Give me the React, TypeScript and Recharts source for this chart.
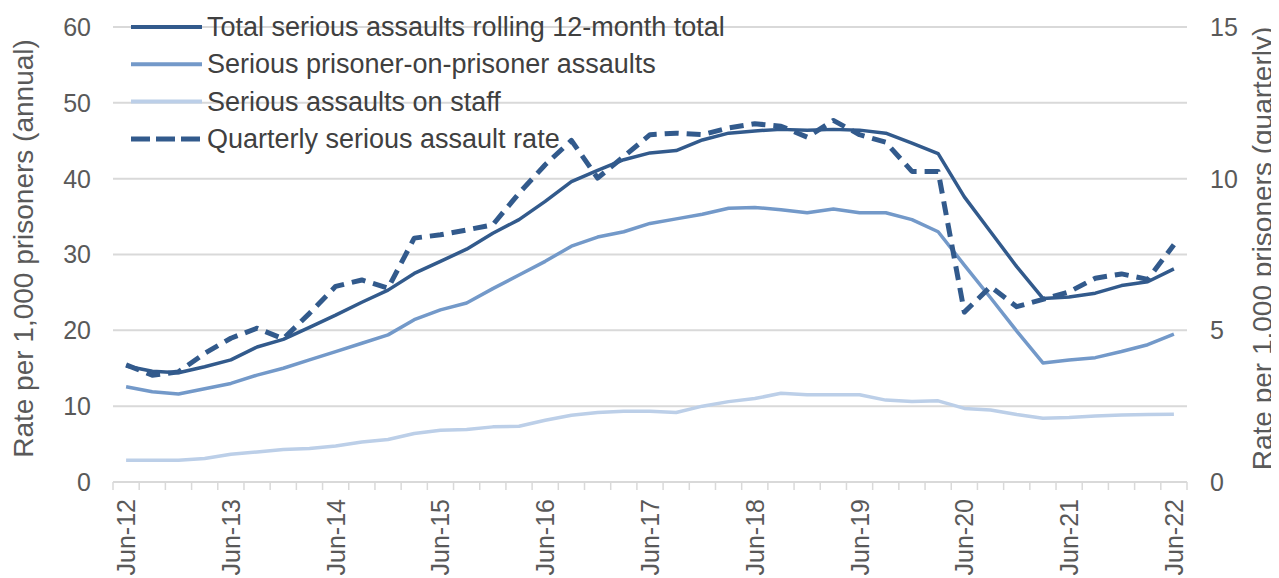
import React from 'react';
import { LineChart, Line, XAxis, YAxis, CartesianGrid, Legend } from 'recharts';

const quarters = [
  'Jun-12','Sep-12','Dec-12','Mar-13','Jun-13','Sep-13','Dec-13','Mar-14','Jun-14','Sep-14','Dec-14','Mar-15',
  'Jun-15','Sep-15','Dec-15','Mar-16','Jun-16','Sep-16','Dec-16','Mar-17','Jun-17','Sep-17','Dec-17','Mar-18',
  'Jun-18','Sep-18','Dec-18','Mar-19','Jun-19','Sep-19','Dec-19','Mar-20','Jun-20','Sep-20','Dec-20','Mar-21',
  'Jun-21','Sep-21','Dec-21','Mar-22','Jun-22',
];

const totalRolling = [
  15.3, 14.6, 14.4, 15.2, 16.1, 17.8, 18.8, 20.4, 22.0, 23.7, 25.3, 27.5, 29.1, 30.7, 32.8, 34.6, 37.0, 39.6, 41.1, 42.5,
  43.4, 43.7, 45.1, 46.0, 46.3, 46.5, 46.4, 46.5, 46.4, 46.0, 44.7, 43.3, 37.6, 33.0, 28.4, 24.2, 24.4, 24.9, 25.9, 26.4, 28.1,
];

const prisonerOnPrisoner = [
  12.55, 11.9, 11.6, 12.3, 13.0, 14.1, 15.0, 16.1, 17.2, 18.3, 19.4, 21.4, 22.7, 23.6, 25.5, 27.3, 29.1, 31.1, 32.3, 33.0,
  34.1, 34.7, 35.3, 36.1, 36.2, 35.9, 35.5, 36.0, 35.5, 35.5, 34.6, 33.0, 28.6, 24.3, 19.9, 15.7, 16.1, 16.4, 17.2, 18.1, 19.5,
];

const onStaff = [
  2.87, 2.87, 2.87, 3.09, 3.66, 3.96, 4.28, 4.41, 4.76, 5.28, 5.6, 6.39, 6.83, 6.92, 7.27, 7.36, 8.15, 8.81, 9.17, 9.34,
  9.34, 9.17, 10.0, 10.6, 11.0, 11.7, 11.5, 11.5, 11.5, 10.8, 10.6, 10.7, 9.7, 9.5, 8.9, 8.4, 8.5, 8.7, 8.85, 8.9, 8.95,
];

const quarterlyRate = [
  3.86, 3.52, 3.63, 4.24, 4.74, 5.07, 4.72, 5.56, 6.45, 6.66, 6.39, 8.04, 8.15, 8.31, 8.48, 9.52, 10.46, 11.26, 10.02, 10.73,
  11.45, 11.5, 11.45, 11.67, 11.81, 11.73, 11.37, 11.92, 11.45, 11.2, 10.24, 10.24, 5.6, 6.44, 5.78, 6.02, 6.27, 6.72, 6.86, 6.68, 7.82,
];

const leftTicks = [0, 10, 20, 30, 40, 50, 60];
const rightTicks = [0, 5, 10, 15];

const seriesNames = [
  'Total serious assaults rolling 12-month total',
  'Serious prisoner-on-prisoner assaults',
  'Serious assaults on staff',
  'Quarterly serious assault rate',
];

const data = quarters.map((q, i) => ({
  q,
  total: totalRolling[i],
  pop: prisonerOnPrisoner[i],
  staff: onStaff[i],
  rate: quarterlyRate[i],
}));

const FONT = '"Liberation Sans", Arial, sans-serif';
const W = 1271;
const H = 570;
const LEFT_W = 105;
const RIGHT_W = 92;
const PLOT_W = W - LEFT_W - RIGHT_W;
const STEP = PLOT_W / quarters.length;

const DARK = '#325a8c';
const MID = '#7399c9';
const LIGHT = '#bccfe8';
const GRID = '#d9d9d9';
const TEXT = '#595959';

const XTick = (props: any) => {
  const { x, y, payload, index } = props;
  const label: string = payload.value;
  const ly = y + 17;
  return (
    <g>
      <line x1={x - STEP / 2} x2={x - STEP / 2} y1={y} y2={y + 8} stroke={GRID} strokeWidth={1.5} />
      {index === quarters.length - 1 && (
        <line x1={x + STEP / 2} x2={x + STEP / 2} y1={y} y2={y + 8} stroke={GRID} strokeWidth={1.5} />
      )}
      {label.startsWith('Jun') && (
        <text
          x={x}
          y={ly}
          transform={`rotate(-90, ${x}, ${ly})`}
          textAnchor="end"
          dominantBaseline="central"
          fill={TEXT}
          fontSize={25}
          fontFamily={FONT}
        >
          {label}
        </text>
      )}
    </g>
  );
};

const AxisTitle = (props: any) => {
  const { viewBox, value, dx } = props;
  const cx = viewBox.x + dx;
  const cy = viewBox.y + viewBox.height / 2 - 6;
  return (
    <text
      x={cx}
      y={cy}
      transform={`rotate(-90, ${cx}, ${cy})`}
      textAnchor="middle"
      dominantBaseline="central"
      fill={TEXT}
      fontSize={28}
      fontFamily={FONT}
    >
      {value}
    </text>
  );
};

const renderLegend = () => {
  const rows = [
    { name: seriesNames[0], color: DARK, dash: undefined, w: 4 },
    { name: seriesNames[1], color: MID, dash: undefined, w: 4 },
    { name: seriesNames[2], color: LIGHT, dash: undefined, w: 4 },
    { name: seriesNames[3], color: DARK, dash: '19 6', w: 5 },
  ];
  return (
    <svg width={680} height={150}>
      {rows.map((r, i) => {
        const cy = 19 + i * 37.3;
        return (
          <g key={r.name}>
            <line x1={8} x2={79} y1={cy} y2={cy} stroke={r.color} strokeWidth={r.w} strokeDasharray={r.dash} />
            <text x={84} y={cy} dominantBaseline="central" fill="#404040" fontSize={27} fontFamily={FONT}>
              {r.name}
            </text>
          </g>
        );
      })}
    </svg>
  );
};

export default function App() {
  return (
    <div style={{ width: W, height: H, fontFamily: FONT }}>
      <LineChart width={W} height={H} data={data} margin={{ top: 19, right: 0, bottom: 0, left: 0 }}>
        <CartesianGrid horizontal vertical={false} stroke={GRID} strokeWidth={2} yAxisId="left" />
        <XAxis
          dataKey="q"
          type="category"
          interval={0}
          height={96}
          padding={{ left: STEP / 2, right: STEP / 2 }}
          axisLine={{ stroke: GRID, strokeWidth: 2 }}
          tickLine={false}
          tickSize={0}
          tickMargin={0}
          tick={<XTick />}
        />
        <YAxis
          yAxisId="left"
          orientation="left"
          width={LEFT_W}
          domain={[0, 60]}
          ticks={leftTicks}
          axisLine={false}
          tickLine={false}
          tickSize={0}
          tickMargin={22}
          tick={{ fill: TEXT, fontSize: 25, fontFamily: FONT }}
          label={<AxisTitle value="Rate per 1,000 prisoners (annual)" dx={15} />}
        />
        <YAxis
          yAxisId="right"
          orientation="right"
          width={RIGHT_W}
          domain={[0, 15]}
          ticks={rightTicks}
          axisLine={false}
          tickLine={false}
          tickSize={0}
          tickMargin={23}
          tick={{ fill: TEXT, fontSize: 25, fontFamily: FONT, textAnchor: 'start' }}
          label={<AxisTitle value="Rate per 1,000 prisoners (quarterly)" dx={75} />}
        />
        <Legend
          layout="horizontal"
          verticalAlign="middle"
          align="center"
          wrapperStyle={{ left: 115, top: 0, width: 680, height: 150 }}
          content={renderLegend}
        />
        <Line yAxisId="left" dataKey="total" name={seriesNames[0]} stroke={DARK} strokeWidth={3.5} dot={false} isAnimationActive={false} strokeLinejoin="round" />
        <Line yAxisId="left" dataKey="pop" name={seriesNames[1]} stroke={MID} strokeWidth={3.5} dot={false} isAnimationActive={false} strokeLinejoin="round" />
        <Line yAxisId="left" dataKey="staff" name={seriesNames[2]} stroke={LIGHT} strokeWidth={3.5} dot={false} isAnimationActive={false} strokeLinejoin="round" />
        <Line yAxisId="right" dataKey="rate" name={seriesNames[3]} stroke={DARK} strokeWidth={5} strokeDasharray="14 8" dot={false} isAnimationActive={false} strokeLinejoin="round" />
      </LineChart>
    </div>
  );
}
